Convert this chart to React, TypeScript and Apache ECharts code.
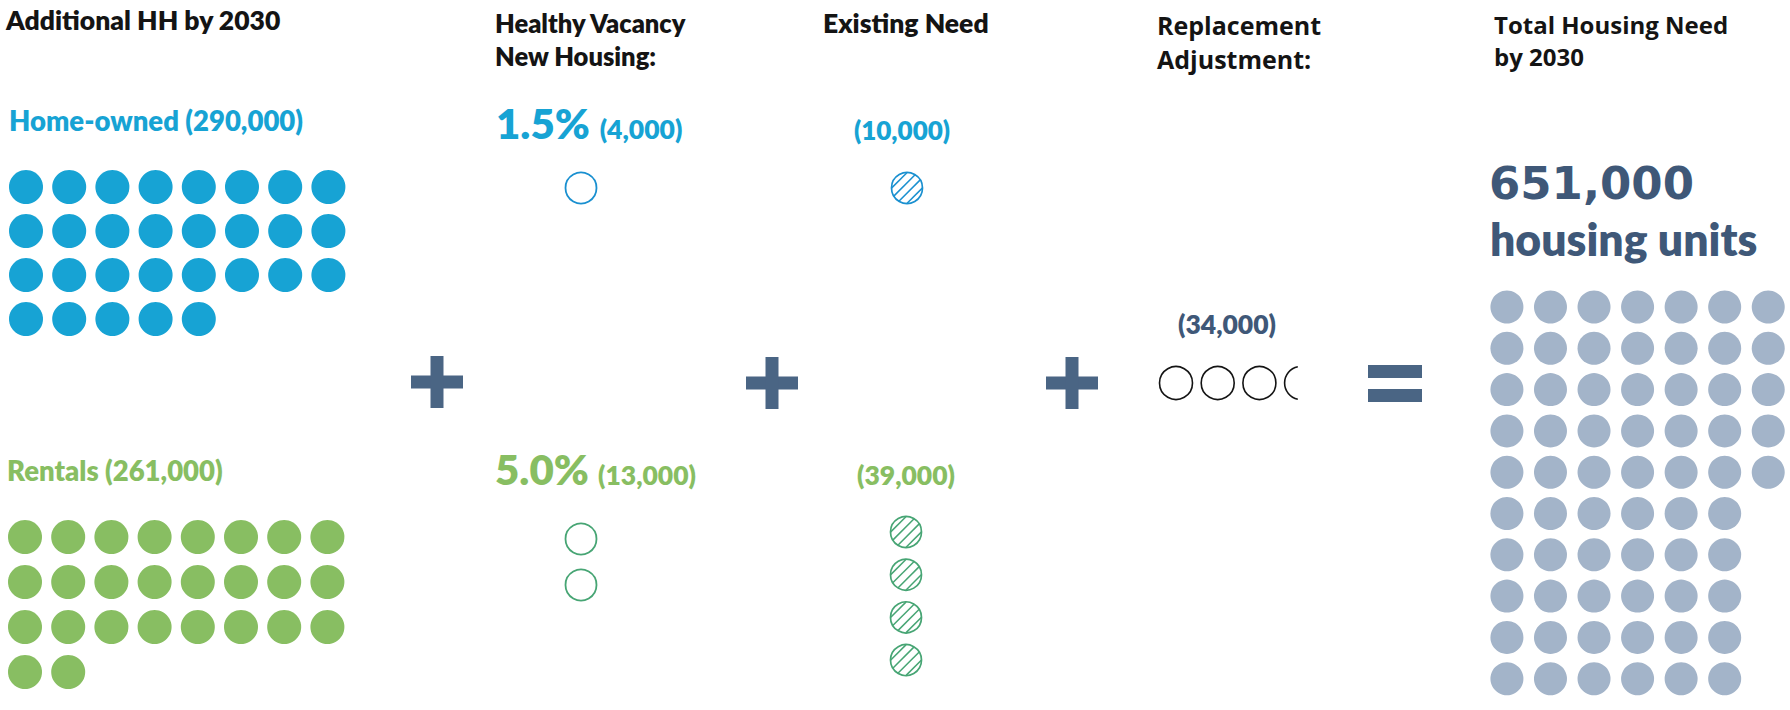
import React, { useEffect, useRef } from "react";
import * as echarts from "echarts";

// ---------- data ----------
const headers = ["Additional HH by 2030", "Healthy Vacancy\nNew Housing:", "Existing Need", "Replacement\nAdjustment:", "Total Housing Need\nby 2030"];
const tenureLabels = ["Home-owned", "Rentals"];
const tenureValues = [290000, 261000];
const tenureDots = [29, 26];
const vacancyRates = ["1.5%", "5.0%"];
const vacancyValues = [4000, 13000];
const vacancyDots = [1, 2];
const existingValues = [10000, 39000];
const existingDots = [1, 4];
const replacementValue = 34000;
const replacementDots = 3.4;
const totalValue = 651000;
const totalDotsPerRow = [7, 7, 7, 7, 7, 6, 6, 6, 6, 6];
const totalUnitLabel = "housing units";

// ---------- style ----------
const BLUE = "#17a3d4";
const GREEN = "#88be62";
const GREEN_LINE = "#47a574";
const BLUE_LINE = "#1a90d0";
const NAVY = "#3f5878";
const OP = "#4a6584";
const GREY = "#a3b4c9";
const BLACK = "#141414";
const FONT = "Lato";
const WIDE = "'Open Sans'";
const W = "800";

const fmt = (v: number) => "(" + v.toLocaleString("en-US") + ")";

export default function App() {
  const ref = useRef<HTMLDivElement>(null);
  useEffect(() => {
    if (!ref.current) return;
    const chart = echarts.init(ref.current, undefined, { renderer: "svg" });

    const grids: any[] = [];
    const xAxes: any[] = [];
    const yAxes: any[] = [];
    const series: any[] = [];

    const addGrid = (cx0: number, cy0: number, dx: number, dy: number, cols: number, rows: number) => {
      const i = grids.length;
      grids.push({ left: cx0 - dx / 2, top: cy0 - dy / 2, width: cols * dx, height: rows * dy, show: false });
      xAxes.push({ type: "value", gridIndex: i, min: -0.5, max: cols - 0.5, show: false });
      yAxes.push({ type: "value", gridIndex: i, min: -0.5, max: rows - 0.5, inverse: true, show: false });
      return i;
    };
    const waffle = (count: number, cols: number) => {
      const pts: number[][] = [];
      for (let k = 0; k < count; k++) pts.push([k % cols, Math.floor(k / cols)]);
      return pts;
    };

    const filled = (g: number, data: number[][], color: string, size: number) => ({
      type: "scatter", xAxisIndex: g, yAxisIndex: g, data, symbol: "circle", symbolSize: size,
      itemStyle: { color, opacity: 1 }, silent: true, clip: false,
    });
    const open = (g: number, data: number[][], color: string, size: number) => ({
      type: "scatter", xAxisIndex: g, yAxisIndex: g, data, symbol: "circle", symbolSize: size,
      itemStyle: { color: "rgba(255,255,255,0)", borderColor: color, borderWidth: 1.8, opacity: 1 }, silent: true, clip: false,
    });
    const hatched = (g: number, data: number[][], color: string, r: number) => ({
      type: "custom", xAxisIndex: g, yAxisIndex: g, data, silent: true, clip: false,
      renderItem: (_p: any, api: any) => {
        const c = api.coord([api.value(0), api.value(1)]);
        const s2 = Math.SQRT1_2;
        const children: any[] = [
          { type: "circle", shape: { cx: c[0], cy: c[1], r }, style: { fill: "none", stroke: color, lineWidth: 1.7 } },
        ];
        [-0.7, -0.233, 0.233, 0.7].forEach((f) => {
          const d = f * r;
          const h = Math.sqrt(r * r - d * d);
          const mx = c[0] + d * s2, my = c[1] + d * s2;
          children.push({
            type: "line",
            shape: { x1: mx - h * s2, y1: my + h * s2, x2: mx + h * s2, y2: my - h * s2 },
            style: { stroke: color, lineWidth: 1.5 },
          });
        });
        return { type: "group", children };
      },
    });

    // Additional HH
    const gHome = addGrid(26, 187, 43.2, 44, 8, 4);
    series.push(filled(gHome, waffle(tenureDots[0], 8), BLUE, 34));
    const gRent = addGrid(25, 537, 43.2, 45, 8, 4);
    series.push(filled(gRent, waffle(tenureDots[1], 8), GREEN, 34));

    // Healthy vacancy
    const gVacB = addGrid(581, 188, 40, 45, 1, 1);
    series.push(open(gVacB, waffle(vacancyDots[0], 1), BLUE_LINE, 31));
    const gVacG = addGrid(581, 539, 40, 46, 1, 2);
    series.push(open(gVacG, waffle(vacancyDots[1], 1), GREEN_LINE, 31));

    // Existing need
    const gExB = addGrid(907, 188, 40, 43, 1, 1);
    series.push(hatched(gExB, waffle(existingDots[0], 1), BLUE_LINE, 15.5));
    const gExG = addGrid(906, 532, 40, 42.7, 1, 4);
    series.push(hatched(gExG, waffle(existingDots[1], 1), GREEN_LINE, 15.5));

    // Replacement adjustment
    const nRep = Math.ceil(replacementDots);
    const gRep = addGrid(1176, 383, 41.7, 40, nRep, 1);
    const repData: number[][] = [];
    for (let k = 0; k < nRep; k++) repData.push([k, 0, Math.min(1, replacementDots - k)]);
    series.push({
      type: "custom", xAxisIndex: gRep, yAxisIndex: gRep, data: repData, silent: true, clip: false,
      renderItem: (_p: any, api: any) => {
        const c = api.coord([api.value(0), api.value(1)]);
        const frac = api.value(2);
        const r = 16.5;
        const st = { fill: "none", stroke: BLACK, lineWidth: 1.6 };
        if (frac >= 1) return { type: "circle", shape: { cx: c[0], cy: c[1], r }, style: st };
        const a0 = Math.acos(-1 + 2 * frac);
        return { type: "arc", shape: { cx: c[0], cy: c[1], r, startAngle: a0, endAngle: 2 * Math.PI - a0, clockwise: true }, style: st };
      },
    });

    // Total
    const maxCols = Math.max(...totalDotsPerRow);
    const gTot = addGrid(1507, 307, 43.7, 41.3, maxCols, totalDotsPerRow.length);
    const totData: number[][] = [];
    totalDotsPerRow.forEach((n, row) => { for (let k = 0; k < n; k++) totData.push([k, row]); });
    series.push(filled(gTot, totData, GREY, 33));

    // ---------- texts ----------
    const txt = (text: string, x: number, baseline: number, size: number, color: string, align = "left", family = FONT, weight = W) => ({
      type: "text", x, y: baseline - size * 0.34, silent: true,
      style: {
        text, font: `${weight} ${size}px ${family}`, fill: color,
        align, verticalAlign: "middle", textAlign: align, textVerticalAlign: "middle",
      },
    });
    const hLines = headers.map((h) => h.split("\n"));
    const graphics: any[] = [
      txt(hLines[0][0], 6, 29, 26.5, BLACK),
      txt(hLines[1][0], 495, 32, 25.5, BLACK),
      txt(hLines[1][1], 495, 65, 25.5, BLACK),
      txt(hLines[2][0], 823, 32, 26.5, BLACK),
      txt(hLines[3][0], 1157, 33, 25, BLACK, "left", WIDE, "bold"),
      txt(hLines[3][1], 1157, 67, 25, BLACK, "left", WIDE, "bold"),
      txt(hLines[4][0], 1494, 33, 24, BLACK, "left", WIDE, "bold"),
      txt(hLines[4][1], 1494, 65, 24, BLACK, "left", WIDE, "bold"),

      txt(`${tenureLabels[0]} ${fmt(tenureValues[0])}`, 9, 130, 27.5, BLUE),
      txt(`${tenureLabels[1]} ${fmt(tenureValues[1])}`, 7, 480, 27.5, GREEN),

      txt(vacancyRates[0], 496, 137, 42, BLUE),
      txt(fmt(vacancyValues[0]), 641, 138, 26.5, BLUE, "center"),
      txt(vacancyRates[1], 495, 483, 42, GREEN),
      txt(fmt(vacancyValues[1]), 647, 484, 26.5, GREEN, "center"),

      txt(fmt(existingValues[0]), 902, 139, 26, BLUE, "center"),
      txt(fmt(existingValues[1]), 906, 484, 26.5, GREEN, "center"),

      txt(fmt(replacementValue), 1227, 333, 26.5, NAVY, "center"),

      txt(totalValue.toLocaleString("en-US"), 1489, 199, 45, NAVY, "left", "'DejaVu Sans'", "bold"),
      txt(totalUnitLabel, 1490, 254, 44.5, NAVY),
    ];

    // operators
    const plus = (cx: number, cy: number) => ({
      type: "group", silent: true,
      children: [
        { type: "rect", shape: { x: cx - 26, y: cy - 6.5, width: 52, height: 13 }, style: { fill: OP } },
        { type: "rect", shape: { x: cx - 6.5, y: cy - 26, width: 13, height: 52 }, style: { fill: OP } },
      ],
    });
    graphics.push(plus(437, 382), plus(772, 383), plus(1072, 383));
    graphics.push({
      type: "group", silent: true,
      children: [
        { type: "rect", shape: { x: 1368, y: 365, width: 54, height: 13 }, style: { fill: OP } },
        { type: "rect", shape: { x: 1368, y: 389, width: 54, height: 13 }, style: { fill: OP } },
      ],
    });

    chart.setOption({
      animation: false,
      backgroundColor: "#ffffff",
      grid: grids,
      xAxis: xAxes,
      yAxis: yAxes,
      series,
      graphic: graphics,
    });
    return () => chart.dispose();
  }, []);
  return <div ref={ref} style={{ position: "fixed", left: 0, top: 0, width: 1790, height: 710 }} />;
}
